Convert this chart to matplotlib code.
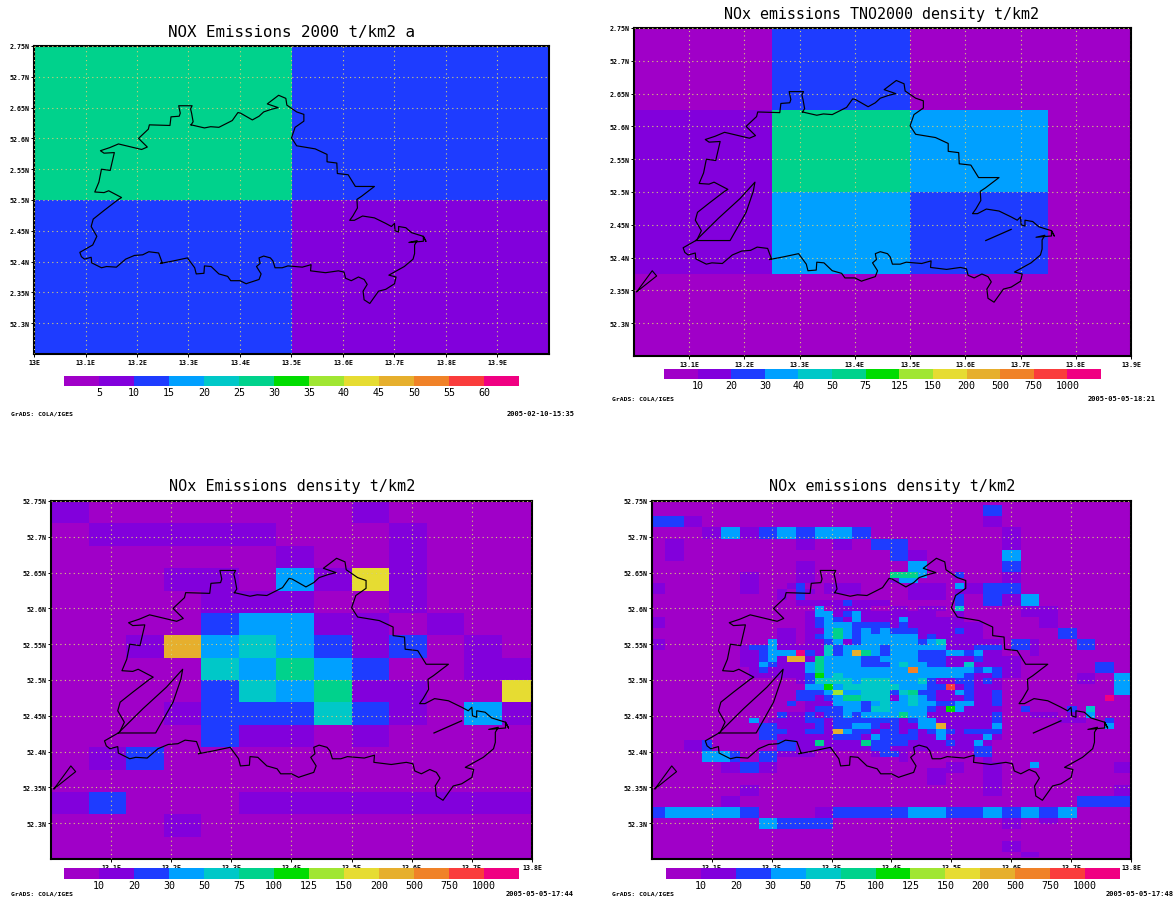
import numpy as np
import matplotlib
matplotlib.use('Agg')
import matplotlib.pyplot as plt
from matplotlib.colors import ListedColormap, BoundaryNorm

plt.rcParams['font.family'] = 'DejaVu Sans Mono'

W, H = 1173, 904

# GrADS default rainbow, one code per class (0..C)
colors = ['#a000c8', '#8200dc', '#1e3cff', '#00a0ff', '#00c8c8', '#00d28c', '#00dc00',
          '#a0e632', '#e6dc32', '#e6af2d', '#f08228', '#fa3c3c', '#f00082']
levels_1 = ['5', '10', '15', '20', '25', '30', '35', '40', '45', '50', '55', '60']
levels_2 = ['10', '20', '30', '40', '50', '75', '125', '150', '200', '500', '750', '1000']
levels_3 = ['10', '20', '30', '50', '75', '100', '125', '150', '200', '500', '750', '1000']

titles = ['NOX Emissions 2000 t/km2 a', 'NOx emissions TNO2000 density t/km2',
          'NOx Emissions density t/km2', 'NOx emissions density t/km2']
stamps = ['2005-02-10-15:35', '2005-05-05-18:21', '2005-05-05-17:44', '2005-05-05-17:48']

# panel 1: 2x2 cells
lon_1 = [13.0, 13.5, 14.0]
lat_1 = [52.75, 52.5, 52.25]
grid_1 = ['52',
          '21']

# panel 2: 4x4 cells
lon_2 = [13.0, 13.25, 13.5, 13.75, 14.0]
lat_2 = [52.75, 52.625, 52.5, 52.375, 52.25]
grid_2 = ['0200',
          '1530',
          '1320',
          '0000']

# panel 3: 1/16 x 1/32 degree cells
grid_3 = ['1000000010000',
          '0111110001000',
          '0000001001000',
          '0001103181000',
          '0000111001000',
          '0000233110100',
          '0019343212010',
          '0000435320011',
          '0000243511008',
          '0001222421031',
          '0000211010000',
          '0120000000000',
          '0000000000000',
          '1200011111111',
          '0001000000000',
          '0000000000000']

# panel 4: 1/64 x 1/128 degree cells, (rows, first column, class codes), rest is class 0
cells_4 = [
    ((1, 2), 36, '22'), ((3, 4), 0, '222211'), ((3, 4), 36, '11'),
    ((5, 6), 6, '113311223322333322'), ((5, 6, 7, 8), 38, '11'),
    ((7, 8, 9, 10), 2, '11'), ((7, 8), 16, '11'), ((7, 8), 20, '11'), ((7, 8), 24, '2222'),
    ((9, 10), 26, '2211'), ((9, 10), 38, '33'),
    ((11, 12), 16, '11'), ((11, 12), 28, '33'), ((11, 12), 38, '22'),
    ((13,), 10, '11'), ((13,), 16, '11'), ((13,), 26, '5553'), ((13,), 33, '2'), ((13,), 38, '11'),
    ((14,), 10, '11'), ((14,), 16, '11'), ((14,), 26, '133'), ((14,), 38, '11'),
    ((15,), 0, '11'), ((15,), 10, '11'), ((15,), 15, '12'), ((15,), 19, '1111'),
    ((15,), 28, '1111'), ((15,), 33, '3112222'), ((15,), 38, '22'),
    ((16,), 0, '11'), ((16,), 10, '11'), ((16,), 14, '1'), ((16,), 16, '21'), ((16,), 19, '1111'),
    ((16,), 28, '1111'), ((16,), 33, '1112222'),
    ((17,), 14, '1'), ((17,), 16, '2'), ((17,), 28, '1111'), ((17, 18), 33, '2'),
    ((17, 18), 36, '221133'), ((18,), 16, '1111121111'),
    # centre of the city, columns 17..37
    ((19,), 17, '030111100110111040000'),
    ((20,), 17, '133123111111110010000'),
    ((21,), 17, '123213111131111110000'),
    ((22,), 17, '123332222121111111100'),
    ((23,), 17, '113532323222111121100'),
    ((24,), 17, '123532333333121111100'),
    ((25,), 17, '112312333333234111111'),
    ((26,), 17, '114233332333333111222'),
    ((27,), 17, '214239532333222332311'),
    ((28,), 17, '153333223333222111211'),
    ((29,), 17, '353333222343322114111'),
    ((30,), 17, '35333333333A333333232'),
    ((31,), 17, '263433333333333332112'),
    ((32,), 17, '244443444333421122121'),
    ((33,), 17, '336344444433322B12111'),
    ((34,), 17, '223733444245221132112'),
    ((35,), 17, '212355444134321112112'),
    ((36,), 17, '111333234334332233112'),
    ((37,), 17, '122233244333321631111'),
    ((38,), 17, '212232333353311111112'),
    ((39,), 17, '221222222212331111112'),
    ((40,), 17, '221223321211339111113'),
    ((41,), 17, '221932212212123212222'),
    ((42,), 17, '111222132222113111131'),
    ((43,), 17, '15111152222111121131'),
    ((44,), 17, '11111112211111111122'),
    ((45,), 24, '1221'), ((45,), 35, '22'), ((46,), 27, '1'), ((46,), 36, '1'),
    # west of the centre
    ((21, 22), 0, '11'), ((23, 24, 25), 14, '11'), ((25, 26), 0, '11'), ((25,), 13, '3'),
    ((26,), 10, '1223111'), ((27,), 10, '112333C'), ((28,), 10, '1123199'),
    ((29,), 10, '1132111'), ((30,), 11, '121111'), ((31,), 11, '111111'), ((32,), 16, '1'),
    ((34, 35), 16, '2'), ((36,), 15, '2'), ((38,), 14, '211'), ((39,), 11, '3'), ((39,), 13, '1111'),
    ((40,), 12, '221111'), ((41,), 12, '22211'), ((42,), 12, '22111'),
    ((43, 44), 4, '112'), ((43, 44), 14, '221'), ((45, 46), 6, '3332'), ((45, 46), 12, '22'),
    ((45,), 14, '1111'), ((47, 48), 8, '112211'),
    # east of the centre
    ((19, 20), 40, '1111'), ((21, 22), 42, '11'), ((23, 24), 44, '22'), ((25, 26), 46, '22'),
    ((25, 26), 39, '221'), ((27,), 41, '1'), ((28, 29, 30, 31), 38, '11'), ((29, 30), 48, '22'),
    ((31, 32), 46, '11'), ((31, 32, 33, 34), 50, '33'), ((35,), 49, 'C'),
    ((37,), 40, '2'), ((37,), 45, '2'), ((37,), 47, '4'),
    ((38,), 41, '111'), ((38,), 45, '1'), ((38,), 47, '3'),
    ((39,), 44, '111'), ((39,), 49, '2'), ((40,), 49, '3'), ((47,), 41, '3'),
    # south, outside the city
    ((47, 48), 32, '11'), ((47, 48, 49, 50, 51, 52), 36, '11'), ((47, 48), 50, '11'),
    ((48, 49, 50), 30, '11'), ((51, 52), 10, '11'), ((51, 52), 50, '11'),
    ((53, 54), 8, '11'), ((53, 54), 46, '222222'),
    ((55, 56), 0, '2233333333220000001122222222333322223322332233'),
    ((57, 58), 12, '33222222'), ((57, 58), 38, '11'), ((57,), 42, '11'),
    ((61, 62), 38, '11'), ((63,), 40, '11'),
]

# Berlin boundary, lon/lat
border_lon = [13.305, 13.309, 13.306, 13.304, 13.307, 13.281, 13.284, 13.282, 13.266, 13.264,
              13.224, 13.222, 13.203, 13.220, 13.209, 13.189, 13.164, 13.147, 13.129, 13.136,
              13.156, 13.148, 13.131, 13.126, 13.118, 13.136, 13.145, 13.170, 13.164, 13.136,
              13.115, 13.111, 13.122, 13.114, 13.089, 13.092, 13.098, 13.111, 13.112, 13.131,
              13.141, 13.160, 13.178, 13.195, 13.211, 13.223, 13.242, 13.249, 13.245, 13.270,
              13.298, 13.312, 13.315, 13.330, 13.331, 13.344, 13.359, 13.376, 13.382, 13.400,
              13.412, 13.415, 13.437, 13.441, 13.432, 13.439, 13.437, 13.446, 13.459, 13.464,
              13.468, 13.482, 13.493, 13.521, 13.538, 13.537, 13.566, 13.591, 13.602, 13.605,
              13.616, 13.630, 13.641, 13.647, 13.639, 13.641, 13.652, 13.669, 13.683, 13.700,
              13.703, 13.689, 13.719, 13.736, 13.739, 13.739, 13.744, 13.728, 13.756, 13.756,
              13.761, 13.756, 13.733, 13.722, 13.708, 13.708, 13.701, 13.700, 13.694, 13.683,
              13.661, 13.638, 13.622, 13.613, 13.619, 13.628, 13.627, 13.636, 13.661, 13.624,
              13.610, 13.589, 13.588, 13.569, 13.569, 13.546, 13.510, 13.500, 13.507, 13.524,
              13.524, 13.510, 13.491, 13.489, 13.475, 13.453, 13.474, 13.460, 13.446, 13.437,
              13.424, 13.401, 13.396, 13.385, 13.359, 13.343, 13.331, 13.305]
border_lat = [52.622, 52.627, 52.641, 52.648, 52.653, 52.653, 52.641, 52.636, 52.635, 52.621,
              52.622, 52.615, 52.600, 52.586, 52.582, 52.586, 52.591, 52.585, 52.580, 52.576,
              52.577, 52.548, 52.550, 52.529, 52.513, 52.512, 52.515, 52.504, 52.501, 52.483,
              52.469, 52.457, 52.441, 52.427, 52.415, 52.408, 52.404, 52.407, 52.398, 52.390,
              52.392, 52.391, 52.404, 52.410, 52.411, 52.416, 52.414, 52.398, 52.397, 52.401,
              52.406, 52.390, 52.380, 52.381, 52.393, 52.392, 52.380, 52.376, 52.369, 52.369,
              52.364, 52.365, 52.371, 52.380, 52.392, 52.397, 52.406, 52.409, 52.406, 52.401,
              52.390, 52.390, 52.393, 52.391, 52.395, 52.385, 52.382, 52.385, 52.383, 52.373,
              52.369, 52.375, 52.371, 52.363, 52.352, 52.338, 52.332, 52.352, 52.355, 52.364,
              52.375, 52.378, 52.392, 52.404, 52.413, 52.427, 52.434, 52.431, 52.433, 52.441,
              52.433, 52.441, 52.447, 52.455, 52.457, 52.448, 52.450, 52.462, 52.457, 52.462,
              52.471, 52.474, 52.467, 52.467, 52.474, 52.487, 52.501, 52.506, 52.522, 52.522,
              52.541, 52.543, 52.560, 52.562, 52.574, 52.583, 52.588, 52.601, 52.618, 52.628,
              52.639, 52.643, 52.654, 52.665, 52.670, 52.656, 52.650, 52.647, 52.643, 52.636,
              52.630, 52.641, 52.642, 52.629, 52.618, 52.619, 52.617, 52.622]

# extra lines seen in panels 2-4
lake_lon = [13.112, 13.174, 13.203, 13.216, 13.219, 13.192, 13.153, 13.112]
lake_lat = [52.426, 52.426, 52.469, 52.501, 52.515, 52.490, 52.460, 52.426]
tri_lon = [13.005, 13.033, 13.041, 13.005]
tri_lat = [52.348, 52.380, 52.372, 52.348]
line_lon = [13.637, 13.683]
line_lat = [52.426, 52.443]

cmap = ListedColormap(colors)
norm = BoundaryNorm(np.arange(14) - 0.5, 13)


def to_grid(rows):
    return np.array([[int(c, 16) for c in r] for r in rows])


def box(x0, y0, x1, y1):
    return [x0 / W, 1 - y1 / H, (x1 - x0) / W, (y1 - y0) / H]


def panel(fig, px, edges, values, lon_max, ylab_short, xlabels, extras):
    ax = fig.add_axes(box(*px), zorder=1)
    ax.pcolormesh(edges[0], edges[1], values, cmap=cmap, norm=norm, antialiased=False)
    ax.set_xlim(13.0, lon_max)
    ax.set_ylim(52.25, 52.75)
    ax.set_xticks(np.arange(13.1, lon_max + 0.01, 0.1) if xlabels[0] != '13E' else np.arange(13.0, lon_max - 0.01, 0.1))
    ax.set_xticklabels(xlabels, fontsize=4.8, fontweight='bold')
    yt = [52.3, 52.35, 52.4, 52.45, 52.5, 52.55, 52.6, 52.65, 52.7, 52.75]
    ax.set_yticks(yt)
    ax.set_yticklabels(ylab_short, fontsize=4.8, fontweight='bold')
    ax.tick_params(length=2, width=0.7, pad=1.5)
    ax.grid(True, color='#d6cf78', lw=0.8, ls=(0, (1, 3)))
    ax.set_axisbelow(False)
    ax.plot(border_lon, border_lat, color='black', lw=0.85, zorder=5)
    if extras:
        ax.plot(lake_lon, lake_lat, color='black', lw=0.85, zorder=5)
        ax.plot(tri_lon, tri_lat, color='black', lw=0.8, zorder=5)
        ax.plot(line_lon, line_lat, color='black', lw=0.9, zorder=5)
    for s in ax.spines.values():
        s.set_linewidth(1.5)
    return ax


def colorbar(fig, px, labels):
    cax = fig.add_axes(box(*px), zorder=3)
    cax.pcolormesh(np.arange(14), [0, 1], [np.arange(13)], cmap=cmap, norm=norm, antialiased=False)
    cax.set_xticks(np.arange(1, 13))
    cax.set_xticklabels(labels, fontsize=7.2)
    cax.set_yticks([])
    cax.tick_params(length=0, pad=1)
    for s in cax.spines.values():
        s.set_visible(False)


def note(fig, x, y, s, size=4.6, ha='left'):
    fig.text(x / W, 1 - y / H, s, fontsize=size, ha=ha, va='center', fontweight='bold', clip_on=True)


fig = plt.figure(figsize=(W / 100, H / 100), dpi=100, facecolor='white')

ylab_top = ['52.3N', '2.35N', '52.4N', '2.45N', '52.5N', '2.55N', '52.6N', '2.65N', '52.7N', '2.75N']
ylab_low = ['52.3N', '52.35N', '52.4N', '52.45N', '52.5N', '52.55N', '52.6N', '52.65N', '52.7N', '52.75N']

# panel 1
panel(fig, (34, 47, 549, 355), (lon_1, lat_1), to_grid(grid_1), 14.0, ylab_top,
      ['13E', '13.1E', '13.2E', '13.3E', '13.4E', '13.5E', '13.6E', '13.7E', '13.8E', '13.9E'], False)
colorbar(fig, (64, 377, 519, 387), levels_1)
fig.text(292 / W, 1 - 32 / H, titles[0], fontsize=11.4, ha='center', va='center')
note(fig, 11, 414, 'GrADS: COLA/IGES')
note(fig, 507, 414, stamps[0], 5)

# panel 2
panel(fig, (634, 29, 1131, 357), (lon_2, lat_2), to_grid(grid_2), 13.9, ylab_top,
      ['13.1E', '13.2E', '13.3E', '13.4E', '13.5E', '13.6E', '13.7E', '13.8E', '13.9E'], True)
colorbar(fig, (664, 370, 1101, 380), levels_2)
fig.text(881 / W, 1 - 14 / H, titles[1], fontsize=10.8, ha='center', va='center')
note(fig, 612, 399, 'GrADS: COLA/IGES')
note(fig, 1088, 399, stamps[1], 5)

# panel 3
lon_3 = 13.0 + np.arange(14) / 16
lat_3 = 52.75 - np.arange(17) / 32
xlab_low = ['13.1E', '13.2E', '13.3E', '13.4E', '13.5E', '13.6E', '13.7E', '13.8E']
panel(fig, (51, 502, 532, 860), (lon_3, lat_3), to_grid(grid_3), 13.8, ylab_low, xlab_low, True)
colorbar(fig, (64, 869, 519, 880), levels_3)
fig.text(292 / W, 1 - 487 / H, titles[2], fontsize=10.9, ha='center', va='center')
note(fig, 11, 894, 'GrADS: COLA/IGES')
note(fig, 506, 894, stamps[2], 5)

# panel 4
grid_4 = np.zeros((65, 52), dtype=int)
for rows, col, codes in cells_4:
    for r in rows:
        grid_4[r, col:col + len(codes)] = [int(c, 16) for c in codes]
lon_4 = 13.0 + (np.arange(53) - 0.61) / 64
lat_4 = 52.75 - (np.arange(66) - 0.286) / 128
panel(fig, (652, 502, 1131, 860), (lon_4, lat_4), grid_4, 13.8, ylab_low, xlab_low, True)
colorbar(fig, (666, 869, 1120, 880), levels_3)
fig.text(892 / W, 1 - 487 / H, titles[3], fontsize=10.9, ha='center', va='center')
note(fig, 612, 894, 'GrADS: COLA/IGES')
note(fig, 1106, 894, stamps[3], 5)

fig.savefig('out.png', dpi=100)
